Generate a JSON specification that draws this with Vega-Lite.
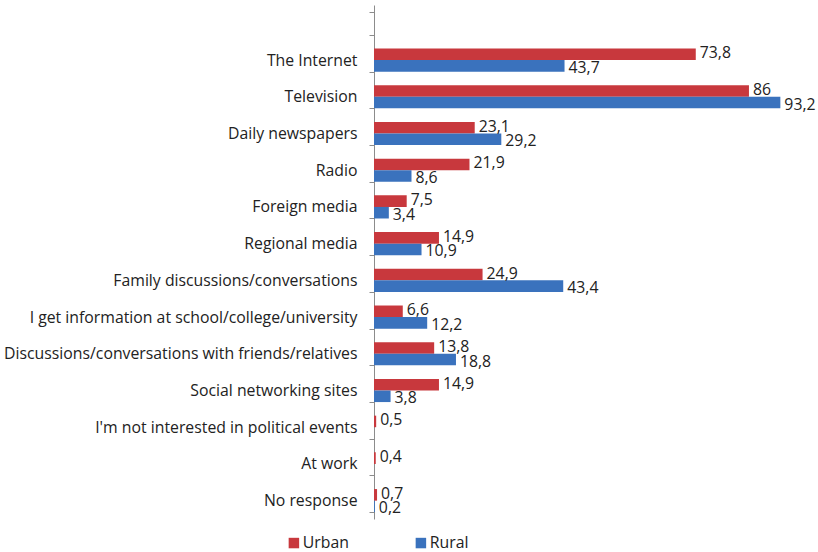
{
  "$schema": "https://vega.github.io/schema/vega-lite/v6.json",
  "autosize": {"type": "none"},
  "padding": {"left": 374, "top": 5, "right": 8, "bottom": 33},
  "width": 436,
  "height": 514,
  "background": "white",
  "config": {
    "font": "Open Sans",
    "view": {"stroke": null}
  },
  "data": {
    "values": [
      {"cat": "The Internet", "series": "Urban", "value": 73.8, "label": "73,8"},
      {"cat": "The Internet", "series": "Rural", "value": 43.7, "label": "43,7"},
      {"cat": "Television", "series": "Urban", "value": 86, "label": "86"},
      {"cat": "Television", "series": "Rural", "value": 93.2, "label": "93,2"},
      {"cat": "Daily newspapers", "series": "Urban", "value": 23.1, "label": "23,1"},
      {"cat": "Daily newspapers", "series": "Rural", "value": 29.2, "label": "29,2"},
      {"cat": "Radio", "series": "Urban", "value": 21.9, "label": "21,9"},
      {"cat": "Radio", "series": "Rural", "value": 8.6, "label": "8,6"},
      {"cat": "Foreign media", "series": "Urban", "value": 7.5, "label": "7,5"},
      {"cat": "Foreign media", "series": "Rural", "value": 3.4, "label": "3,4"},
      {"cat": "Regional media", "series": "Urban", "value": 14.9, "label": "14,9"},
      {"cat": "Regional media", "series": "Rural", "value": 10.9, "label": "10,9"},
      {"cat": "Family discussions/conversations", "series": "Urban", "value": 24.9, "label": "24,9"},
      {"cat": "Family discussions/conversations", "series": "Rural", "value": 43.4, "label": "43,4"},
      {"cat": "I get information at school/college/university", "series": "Urban", "value": 6.6, "label": "6,6"},
      {"cat": "I get information at school/college/university", "series": "Rural", "value": 12.2, "label": "12,2"},
      {"cat": "Discussions/conversations with friends/relatives", "series": "Urban", "value": 13.8, "label": "13,8"},
      {"cat": "Discussions/conversations with friends/relatives", "series": "Rural", "value": 18.8, "label": "18,8"},
      {"cat": "Social networking sites", "series": "Urban", "value": 14.9, "label": "14,9"},
      {"cat": "Social networking sites", "series": "Rural", "value": 3.8, "label": "3,8"},
      {"cat": "I'm not interested in political events", "series": "Urban", "value": 0.5, "label": "0,5"},
      {"cat": "At work", "series": "Urban", "value": 0.4, "label": "0,4"},
      {"cat": "No response", "series": "Urban", "value": 0.7, "label": "0,7"},
      {"cat": "No response", "series": "Rural", "value": 0.2, "label": "0,2"}
    ]
  },
  "encoding": {
    "y": {
      "field": "cat",
      "type": "nominal",
      "sort": null,
      "scale": {
        "domain": ["", "The Internet", "Television", "Daily newspapers", "Radio", "Foreign media", "Regional media", "Family discussions/conversations", "I get information at school/college/university", "Discussions/conversations with friends/relatives", "Social networking sites", "I'm not interested in political events", "At work", "No response"],
        "paddingInner": 0.37,
        "paddingOuter": 0.185
      },
      "axis": {
        "title": null,
        "domainColor": "#8c8c8c",
        "tickColor": "#8c8c8c",
        "tickSize": 5,
        "tickBand": "extent",
        "labelPadding": 12,
        "labelFontSize": 15.8,
        "labelColor": "#222222",
        "labelLimit": 400
      }
    },
    "yOffset": {"field": "series", "type": "nominal", "sort": ["Urban", "Rural"], "scale": {"domain": ["Urban", "Rural"]}},
    "x": {
      "field": "value",
      "type": "quantitative",
      "scale": {"domain": [0, 100]},
      "axis": null
    }
  },
  "layer": [
    {
      "mark": {"type": "bar"},
      "encoding": {
        "color": {
          "field": "series",
          "type": "nominal",
          "scale": {"domain": ["Urban", "Rural"], "range": ["#c8383d", "#3a72bd"]},
          "legend": {
            "title": null,
            "orient": "none",
            "direction": "horizontal",
            "legendX": -88,
            "legendY": 530,
            "symbolType": "square",
            "symbolSize": 110,
            "symbolStrokeWidth": 0,
            "labelFontSize": 15.8,
            "labelColor": "#222222",
            "columnPadding": 64,
            "labelOffset": 1
          }
        }
      }
    },
    {
      "transform": [{"filter": "datum.series === 'Urban'"}],
      "mark": {"type": "text", "align": "left", "baseline": "middle", "dx": 4, "dy": -1, "fontSize": 15.8, "color": "#222222"},
      "encoding": {"text": {"field": "label"}}
    },
    {
      "transform": [{"filter": "datum.series === 'Rural'"}],
      "mark": {"type": "text", "align": "left", "baseline": "middle", "dx": 4, "dy": 2, "fontSize": 15.8, "color": "#222222"},
      "encoding": {"text": {"field": "label"}}
    }
  ]
}
